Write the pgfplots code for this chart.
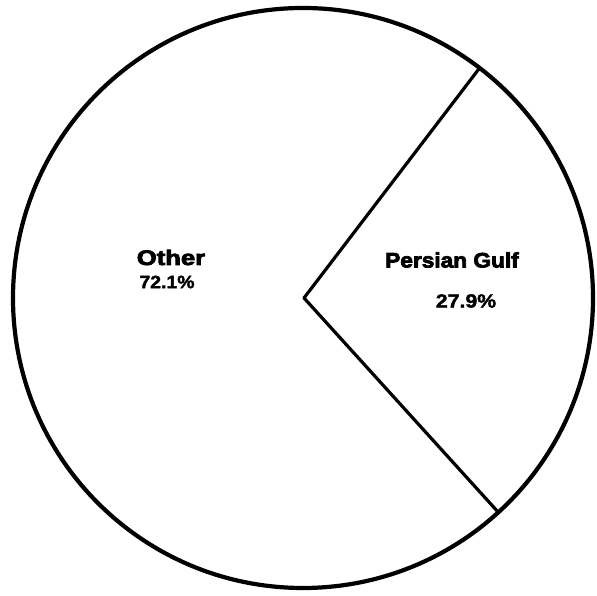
\documentclass[border=0pt]{standalone}
\usepackage{pgfplots}
\pgfplotsset{compat=1.18}
\usepackage{fontspec}
\setmainfont{Liberation Sans}
\newfontfamily\heavy[FakeBold=3.4]{Liberation Sans Bold}
\newfontfamily\semiheavy[FakeBold=1.8]{Liberation Sans Bold}
% pie data (percent)
\def\valPG{27.9}
\def\valOther{72.1}
\pgfmathsetmacro\startA{-47.8}
\pgfmathsetmacro\stopA{\startA+3.6*\valPG}
\begin{document}
\begin{tikzpicture}
\begin{axis}[x=1pt,y=1pt,xmin=0,xmax=597,ymin=0,ymax=596,hide axis,clip=false]
\coordinate (ll) at (axis cs:0,0);
\coordinate (ur) at (axis cs:597,596);
\draw[line width=4.2pt] (axis cs:303,298) circle[radius=290pt];
\draw[line width=3.2pt,line cap=round] (axis cs:304,298) -- ++(\stopA:290pt);
\draw[line width=3.2pt,line cap=round] (axis cs:304,298) -- ++(\startA:290pt);
\node[font=\fontsize{21}{24}\heavy,xscale=1.22] at (axis cs:171,338.5) {Other};
\node[font=\fontsize{18}{22}\semiheavy,xscale=1.08] at (axis cs:167,314) {\valOther\%};
\node[font=\fontsize{21}{24}\heavy,xscale=1.08] at (axis cs:452,336) {Persian Gulf};
\node[font=\fontsize{19}{22}\semiheavy,xscale=1.12] at (axis cs:466,295) {\valPG\%};
\end{axis}
\pgfresetboundingbox
\path (ll) rectangle (ur);
\end{tikzpicture}%
\end{document}
